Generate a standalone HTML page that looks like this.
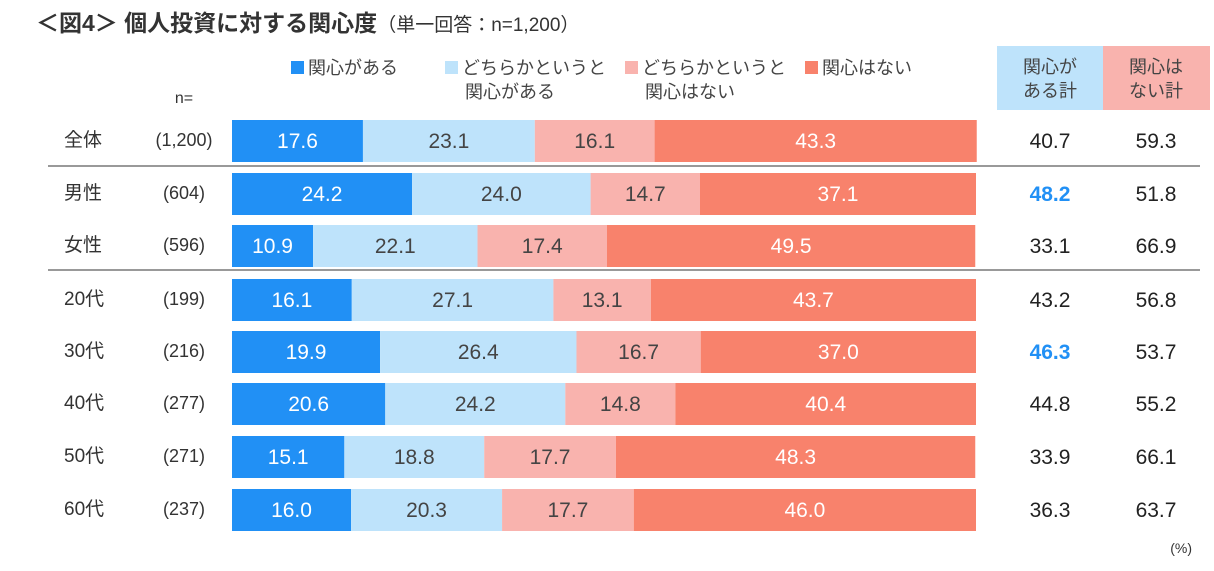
<!DOCTYPE html>
<html><head><meta charset="utf-8"><style>
body{margin:0;background:#fff;width:1214px;height:566px;overflow:hidden;font-family:"Liberation Sans","Noto Sans CJK JP",sans-serif;}
svg text{font-family:"Liberation Sans","Noto Sans CJK JP",sans-serif;}
</style></head><body>
<svg id="chart" width="1214" height="566">
<text x="36" y="31" font-size="23" font-weight="bold" fill="#333">＜図4＞ 個人投資に対する関心度<tspan font-size="19" font-weight="normal">（単一回答：n=1,200）</tspan></text>
<g id="legend"></g>
<text x="184" y="103" font-size="16" fill="#333" text-anchor="middle">n=</text>
<rect x="997" y="46" width="106" height="64" fill="#BEE3FB"/>
<rect x="1103" y="46" width="107" height="64" fill="#F9B3AE"/>
<text x="1050" y="73" font-size="18" fill="#444" text-anchor="middle">関心が<tspan x="1050" dy="24">ある計</tspan></text>
<text x="1156" y="73" font-size="18" fill="#444" text-anchor="middle">関心は<tspan x="1156" dy="24">ない計</tspan></text>
<line x1="48" y1="166" x2="1200" y2="166" stroke="#999" stroke-width="2"/>
<line x1="48" y1="270" x2="1200" y2="270" stroke="#999" stroke-width="2"/>
<text x="1192" y="553" font-size="14" fill="#333" text-anchor="end">(%)</text>
<g id="bars"></g>
</svg>
<script>
const categories=["全体","男性","女性","20代","30代","40代","50代","60代"];
const nLabels=["(1,200)","(604)","(596)","(199)","(216)","(277)","(271)","(237)"];
const seriesNames=["関心がある","どちらかというと\n関心がある","どちらかというと\n関心はない","関心はない"];
const s1=[17.6,24.2,10.9,16.1,19.9,20.6,15.1,16.0];
const s2=[23.1,24.0,22.1,27.1,26.4,24.2,18.8,20.3];
const s3=[16.1,14.7,17.4,13.1,16.7,14.8,17.7,17.7];
const s4=[43.3,37.1,49.5,43.7,37.0,40.4,48.3,46.0];
const totalYes=[40.7,48.2,33.1,43.2,46.3,44.8,33.9,36.3];
const totalNo=[59.3,51.8,66.9,56.8,53.7,55.2,66.1,63.7];
const highlight=[false,true,false,false,true,false,false,false];
const colors=["#2190F5","#BEE3FB","#F9B3AE","#F8826C"];
const textColors=["#fff","#444","#444","#fff"];
const NS="http://www.w3.org/2000/svg";
const x0=232,x1=976;
const xs=v=>x0+(x1-x0)*v/100;
const rowY=[120,173,225,279,331,383,436,489];
const yOf=i=>rowY[i];
const bh=42;
function mk(tag,attrs,parent){const e=document.createElementNS(NS,tag);for(const k in attrs)e.setAttribute(k,attrs[k]);parent.appendChild(e);return e;}
const g=document.getElementById('bars');
const series=[s1,s2,s3,s4];
categories.forEach((c,i)=>{
  const y=yOf(i), cy=y+bh/2+7;
  const lab=mk('text',{x:64,y:cy-2,'font-size':19,fill:'#333'},g);lab.textContent=c;
  
  
  const nl=mk('text',{x:184,y:cy-2,'font-size':18,fill:'#333','text-anchor':'middle'},g);nl.textContent=nLabels[i];
  
  
  let acc=0;
  series.forEach((s,k)=>{
    const v=s[i];
    const r=mk('rect',{x:xs(acc),y:y,width:xs(acc+v)-xs(acc),height:bh,fill:colors[k]},g);
    
    
    const t=mk('text',{x:(xs(acc)+xs(acc+v))/2,y:cy,'font-size':21,fill:textColors[k],'text-anchor':'middle'},g);
    t.textContent=v.toFixed(1);
    
    
    acc+=v;
  });
  const ty=mk('text',{x:1050,y:cy,'font-size':21,fill:highlight[i]?'#2190F5':'#222','font-weight':highlight[i]?'bold':'normal','text-anchor':'middle'},g);
  ty.textContent=totalYes[i].toFixed(1);
  
  
  const tn=mk('text',{x:1156,y:cy,'font-size':21,fill:'#222','text-anchor':'middle'},g);
  tn.textContent=totalNo[i].toFixed(1);
  
  
});
const lg=document.getElementById('legend');
const lx=[291,445,625,805];
seriesNames.forEach((nm,k)=>{
  const r=mk('rect',{x:lx[k],y:61,width:13,height:13,fill:colors[k]},lg);
  
  
  const lines=nm.split('\n');
  const t=mk('text',{x:lx[k]+17,y:74,'font-size':18,fill:'#444'},lg);
  
  
  lines.forEach((ln,j)=>{const ts=mk('tspan',{x:lx[k]+(j?20:17),dy:j?24:0},t);ts.textContent=ln;});
});
</script>
</body></html>
